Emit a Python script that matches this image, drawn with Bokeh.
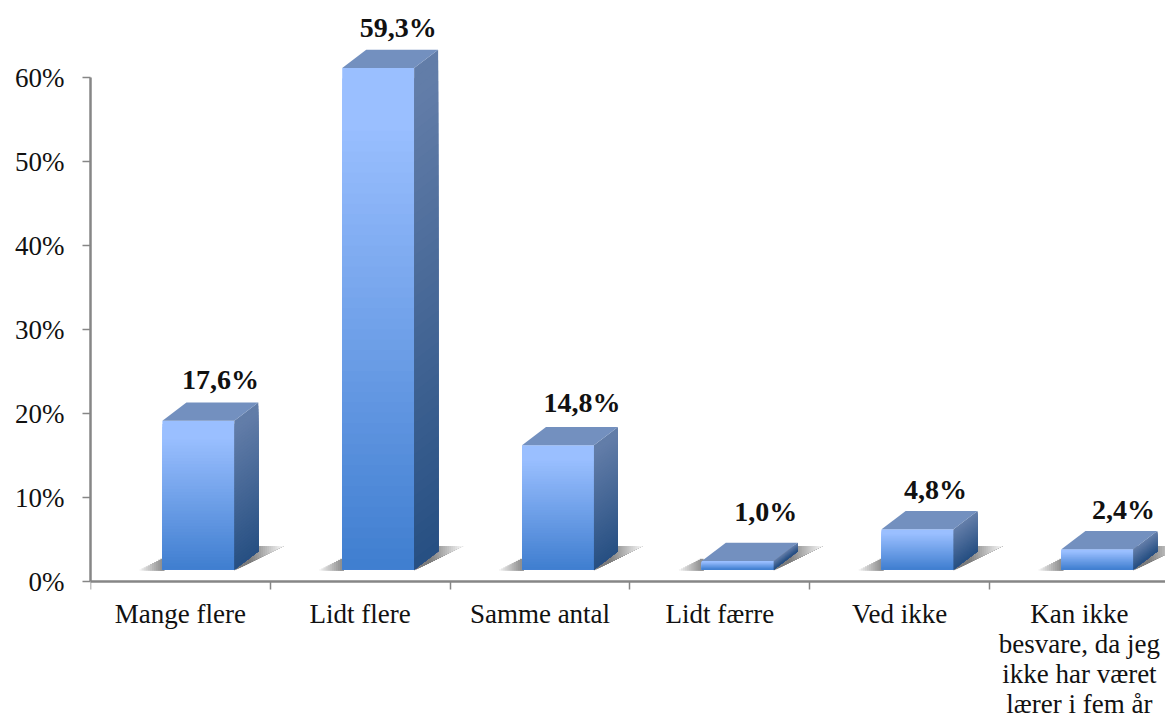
from bokeh.plotting import figure
from bokeh.models import FixedTicker, Range1d
from bokeh.core.properties import value
from bokeh.embed import file_html
from bokeh.resources import INLINE

# ---- data ----
categories = ["Mange flere", "Lidt flere", "Samme antal", "Lidt færre", "Ved ikke",
              "Kan ikke\nbesvare, da jeg\nikke har været\nlærer i fem år"]
bar_heights = [17.7, 59.7, 14.8, 1.0, 4.8, 2.4]
bar_labels = ["17,6%", "59,3%", "14,8%", "1,0%", "4,8%", "2,4%"]
y_ticks = [0, 10, 20, 30, 40, 50, 60]
y_tick_labels = ["0%", "10%", "20%", "30%", "40%", "50%", "60%"]

# ---- layout / style ----
W, H = 1165, 718
LEFT, BOTTOM = 90, 137
PX_X, PX_Y = 179.8, 8.4
FONT = "Liberation Serif"
AXIS = "#868686"
BASE = 12 / PX_Y
BAR_L, BAR_R = 0.40, 0.80
DX, DY = 24 / PX_X, 18.3 / PX_Y
label_dx = [22, 20, 24, 28, 18, 26]
label_dy = [23, 22, 24, 31, 21, 22]
STEPS = 48


def mix(a, b, t):
    t = max(0.0, min(1.0, t))
    return "#%02x%02x%02x" % tuple(round(a[i] + (b[i] - a[i]) * t) for i in range(3))


FRONT_T, FRONT_B = (154, 191, 255), (62, 125, 207)
SIDE_T, SIDE_B = (98, 125, 168), (38, 79, 130)
TOP_C = "#7390bf"
SHADOW_D, WHITE = (125, 125, 125), (255, 255, 255)

p = figure(width=W, height=H, output_backend="svg", toolbar_location=None,
           x_range=Range1d(0, (W - LEFT) / PX_X),
           y_range=Range1d(-BOTTOM / PX_Y, (H - BOTTOM) / PX_Y),
           min_border_left=LEFT, min_border_right=0, min_border_top=0,
           min_border_bottom=0, outline_line_color=None, background_fill_color="white")
p.grid.visible = False

xa = p.xaxis[0]
xa.fixed_location = 0
xa.ticker = FixedTicker(ticks=[i + 0.5 for i in range(6)], minor_ticks=list(range(7)))
xa.major_label_overrides = {i + 0.5: c for i, c in enumerate(categories)}
xa.major_tick_line_color = None
xa.minor_tick_line_color = AXIS
xa.minor_tick_line_width = 1.5
xa.minor_tick_out = 8
xa.minor_tick_in = 0
xa.axis_line_color = AXIS
xa.axis_line_width = 2.5
xa.major_label_text_font = FONT
xa.major_label_text_font_size = "27px"
xa.major_label_text_color = "#111111"
xa.major_label_text_line_height = 1.0
xa.major_label_standoff = 9

ya = p.yaxis[0]
ya.bounds = (0, 60)
ya.ticker = FixedTicker(ticks=y_ticks, minor_ticks=[])
ya.major_label_overrides = dict(zip(y_ticks, y_tick_labels))
ya.major_tick_line_color = AXIS
ya.major_tick_line_width = 1.5
ya.major_tick_out = 8
ya.major_tick_in = 0
ya.axis_line_color = AXIS
ya.axis_line_width = 2.5
ya.major_label_text_font = FONT
ya.major_label_text_font_size = "27px"
ya.major_label_text_color = "#111111"
ya.major_label_standoff = 18

for i, h in enumerate(bar_heights):
    l, r = i + BAR_L, i + BAR_R
    top = BASE + h

    # floor shadow, left wedge and right wedge
    sx = 25 / PX_X
    sl = BASE - 1 / PX_Y
    for k in range(12):
        x0 = l - sx + sx * k / 12
        yy = sl + (25 / 49 * sx * PX_X * k / 12) / PX_Y
        p.patch([x0, l + 0.01, l + 0.01, x0], [sl, sl, yy, yy],
                color=mix(WHITE, SHADOW_D, (k + 1) / 12 * 0.85), line_width=0)
    ex = 49 / PX_X
    ey = 24.5 / PX_Y
    for k in range(24):
        t = k / 24
        x0 = r + ex * t
        p.patch([x0, r + ex, r + ex, x0], [sl + ey * t, sl + ey, sl + ey, sl + ey],
                color=mix(SHADOW_D, WHITE, max(0, (t - 0.3) / 0.7)), line_width=0)

    # gradient faces: each strip runs down to the base, painted tallest first
    for k in range(STEPS):
        t = k / STEPS
        yt = top - h * t
        c = mix(FRONT_T, FRONT_B, (t - 0.1) / 0.9)
        p.patch([l, r, r, l], [BASE, BASE, yt, yt], color=c, line_width=0)
        c2 = mix(SIDE_T, SIDE_B, (t - 0.05) / 0.95)
        p.patch([r, r + DX, r + DX, r], [BASE, BASE + DY, yt + DY, yt], color=c2, line_width=0)

    # top face
    p.patch([l, r, r + DX, l + DX], [top, top, top + DY, top + DY], color=TOP_C, line_width=0)

    p.text([(l + r) / 2 + label_dx[i] / PX_X], [top + DY + label_dy[i] / PX_Y], text=[bar_labels[i]],
           text_font=value(FONT), text_font_style="bold", text_font_size="28px",
           text_color="#111111", text_align="center", text_baseline="middle")

with open("out.html", "w") as f:
    f.write(file_html(p, INLINE))
